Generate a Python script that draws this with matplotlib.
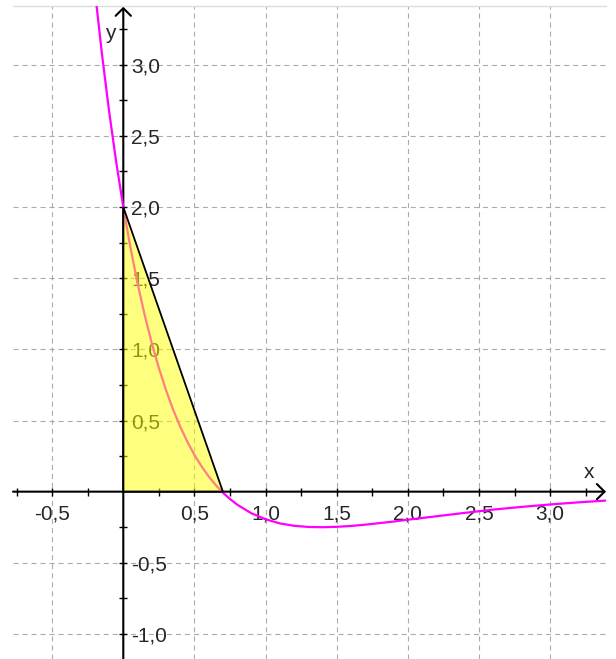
import matplotlib
matplotlib.use("Agg")
import matplotlib.pyplot as plt

plt.rcParams['font.family'] = ['Liberation Sans', 'DejaVu Sans']
plt.rcParams['lines.scale_dashes'] = False

# curve
curve_x = [-0.2, -0.15, -0.1, -0.05, 0.0, 0.05, 0.1, 0.15, 0.2, 0.25, 0.3, 0.35,
           0.4, 0.45, 0.5, 0.55, 0.6, 0.65, 0.7, 0.75, 0.8, 0.9, 1.0, 1.1, 1.2,
           1.3, 1.4, 1.5, 1.6, 1.7, 1.8, 1.9, 2.0, 2.2, 2.4, 2.6, 2.8, 3.0, 3.2,
           3.4, 3.5]
curve_y = [3.524, 3.076, 2.675, 2.318, 2.0, 1.717, 1.465, 1.242, 1.044, 0.869,
           0.714, 0.577, 0.457, 0.351, 0.258, 0.178, 0.107, 0.046, -0.007,
           -0.052, -0.091, -0.152, -0.194, -0.223, -0.240, -0.248, -0.250,
           -0.247, -0.241, -0.232, -0.221, -0.210, -0.197, -0.173, -0.149,
           -0.126, -0.107, -0.090, -0.075, -0.062, -0.057]

# shaded triangle
tri_x = [0.0, 0.0, 0.70]
tri_y = [0.0, 2.0, 0.0]

# tick labels
xtick_vals = [-0.5, 0.5, 1.0, 1.5, 2.0, 2.5, 3.0]
xtick_labels = ["-0,5", "0,5", "1,0", "1,5", "2,0", "2,5", "3,0"]
ytick_vals = [-1.0, -0.5, 0.5, 1.0, 1.5, 2.0, 2.5, 3.0]
ytick_labels = ["-1,0", "-0,5", "0,5", "1,0", "1,5", "2,0", "2,5", "3,0"]

x_min, x_max = -0.775, 3.392
y_min, y_max = -1.176, 3.413
fs = 15

fig = plt.figure(figsize=(6.16, 6.59), dpi=100)
ax = fig.add_axes([13 / 616, 0, 593 / 616, 653 / 659])
ax.set_xlim(x_min, x_max)
ax.set_ylim(y_min, y_max)
ax.set_xticks([])
ax.set_yticks([])
for side in ['left', 'right', 'bottom']:
    ax.spines[side].set_visible(False)
ax.spines['top'].set_color('#dcdcdc')
ax.spines['top'].set_linewidth(1.0)

# dashed grid
grid_kw = dict(color='#aaaaaa', lw=0.8, dashes=(3.6, 2.9), zorder=0)
for v in xtick_vals:
    ax.axvline(v, **grid_kw)
for v in ytick_vals:
    ax.axhline(v, **grid_kw)

# axes with arrows
arrow_kw = dict(arrowstyle='->,head_length=0.55,head_width=0.55', lw=1.5,
                color='black', mutation_scale=10, shrinkA=0, shrinkB=0)
ax.annotate('', xy=(x_max, 0), xytext=(x_min, 0), arrowprops=arrow_kw,
            annotation_clip=False, zorder=2)
ax.annotate('', xy=(0, y_max - 0.005), xytext=(0, y_min), arrowprops=arrow_kw,
            annotation_clip=False, zorder=2)

# small tick marks every 0.25
xt = [i * 0.25 for i in range(-3, 14) if i != 0]
yt = [i * 0.25 for i in range(-4, 14) if i != 0]
ax.plot(xt, [0] * len(xt), ls='none', marker='|', ms=6, mew=1.0,
        color='black', zorder=2)
ax.plot([0] * len(yt), yt, ls='none', marker='_', ms=6, mew=1.0,
        color='black', zorder=2)

lab_color = '#262626'
for v, s in zip(xtick_vals, xtick_labels):
    ax.annotate(s, xy=(v, 0), xytext=(0, -28), textcoords='offset pixels',
                ha='center', va='baseline', fontsize=fs, color=lab_color,
                zorder=2)
for v, s in zip(ytick_vals, ytick_labels):
    ax.annotate(s, xy=(0, v), xytext=(8, -7.5), textcoords='offset pixels',
                ha='left', va='baseline', fontsize=fs, color=lab_color,
                zorder=2)

ax.text(-0.093, 3.22, 'y', ha='center', va='center', fontsize=fs,
        color=lab_color, zorder=2)
ax.text(3.276, 0.138, 'x', ha='center', va='center', fontsize=fs,
        color=lab_color, zorder=2)

# curve, then the shaded triangle on top of it
ax.plot(curve_x, curve_y, color='#ff00ff', lw=1.6, zorder=3,
        solid_capstyle='round')
ax.fill(tri_x, tri_y, facecolor='yellow', alpha=0.5, edgecolor='none',
        zorder=4)
ax.fill(tri_x, tri_y, facecolor='none', edgecolor='black', lw=1.3, zorder=5)

fig.savefig('out.png', dpi=100)
